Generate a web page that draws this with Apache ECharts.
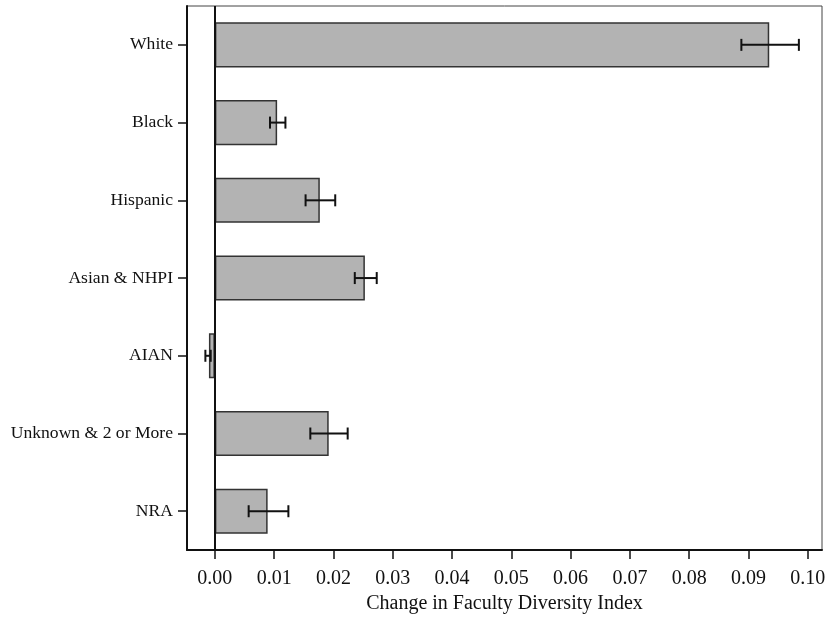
<!DOCTYPE html>
<html>
<head>
<meta charset="utf-8">
<script src="https://cdn.jsdelivr.net/npm/echarts@6/dist/echarts.min.js"></script>
<style>
  html, body { margin: 0; padding: 0; background: #fff; }
  #chart { width: 830px; height: 619px; }
</style>
</head>
<body>
<div id="chart"></div>
<script>
// Change in faculty diversity index by race/ethnicity group, with confidence intervals
const groups = ['White', 'Black', 'Hispanic', 'Asian & NHPI', 'AIAN', 'Unknown & 2 or More', 'NRA'];
const change = [0.0935, 0.0105, 0.0177, 0.0253, -0.0010, 0.0192, 0.0089];
const ciLow  = [0.0888, 0.0093, 0.0153, 0.0236, -0.0016, 0.0161, 0.0057];
const ciHigh = [0.0985, 0.0119, 0.0203, 0.0273, -0.0007, 0.0224, 0.0124];
const tickValues = [0, 0.01, 0.02, 0.03, 0.04, 0.05, 0.06, 0.07, 0.08, 0.09, 0.10];

const serif = '"Liberation Serif", "DejaVu Serif", serif';

const chart = echarts.init(document.getElementById('chart'));

chart.setOption({
  animation: false,
  backgroundColor: '#ffffff',
  grid: {
    left: 187, right: 8, top: 6, bottom: 67,
    show: true, borderColor: '#444', borderWidth: 1
  },
  xAxis: {
    type: 'value',
    min: -0.0047,
    max: 0.1024,
    name: 'Change in Faculty Diversity Index',
    nameLocation: 'middle',
    nameGap: 37,
    nameTextStyle: { fontFamily: serif, fontSize: 20, color: '#111' },
    splitLine: { show: false },
    axisLine: { show: true, lineStyle: { color: '#111', width: 2 } },
    axisTick: { show: true, length: 9, customValues: tickValues, lineStyle: { color: '#111', width: 1.5 } },
    axisLabel: {
      customValues: tickValues,
      margin: 19,
      fontFamily: serif, fontSize: 20, color: '#111',
      formatter: v => v.toFixed(2)
    }
  },
  yAxis: {
    type: 'category',
    data: groups,
    inverse: true,
    axisLine: { show: true, onZero: false, lineStyle: { color: '#111', width: 2 } },
    axisTick: { show: true, alignWithLabel: true, length: 9, lineStyle: { color: '#111', width: 1.5 } },
    axisLabel: { margin: 14, fontFamily: serif, fontSize: 17.6, color: '#111' },
    splitLine: { show: false }
  },
  series: [
    {
      type: 'bar',
      data: change,
      barWidth: '58%',
      itemStyle: { color: '#b3b3b3', borderColor: '#333', borderWidth: 1.5 },
      markLine: {
        silent: true,
        symbol: 'none',
        label: { show: false },
        lineStyle: { color: '#111', width: 2, type: 'solid' },
        data: [{ xAxis: 0 }]
      },
      z: 2
    },
    {
      type: 'custom',
      data: groups.map((g, i) => [i, ciLow[i], ciHigh[i]]),
      encode: { x: [1, 2], y: 0 },
      z: 5,
      renderItem: function (params, api) {
        const idx = api.value(0);
        const lo = api.coord([api.value(1), idx]);
        const hi = api.coord([api.value(2), idx]);
        const cap = 6;
        const style = { stroke: '#111', lineWidth: 2, fill: null };
        return {
          type: 'group',
          children: [
            { type: 'line', shape: { x1: lo[0], y1: lo[1], x2: hi[0], y2: hi[1] }, style },
            { type: 'line', shape: { x1: lo[0], y1: lo[1] - cap, x2: lo[0], y2: lo[1] + cap }, style },
            { type: 'line', shape: { x1: hi[0], y1: hi[1] - cap, x2: hi[0], y2: hi[1] + cap }, style }
          ]
        };
      }
    }
  ]
});
</script>
</body>
</html>
